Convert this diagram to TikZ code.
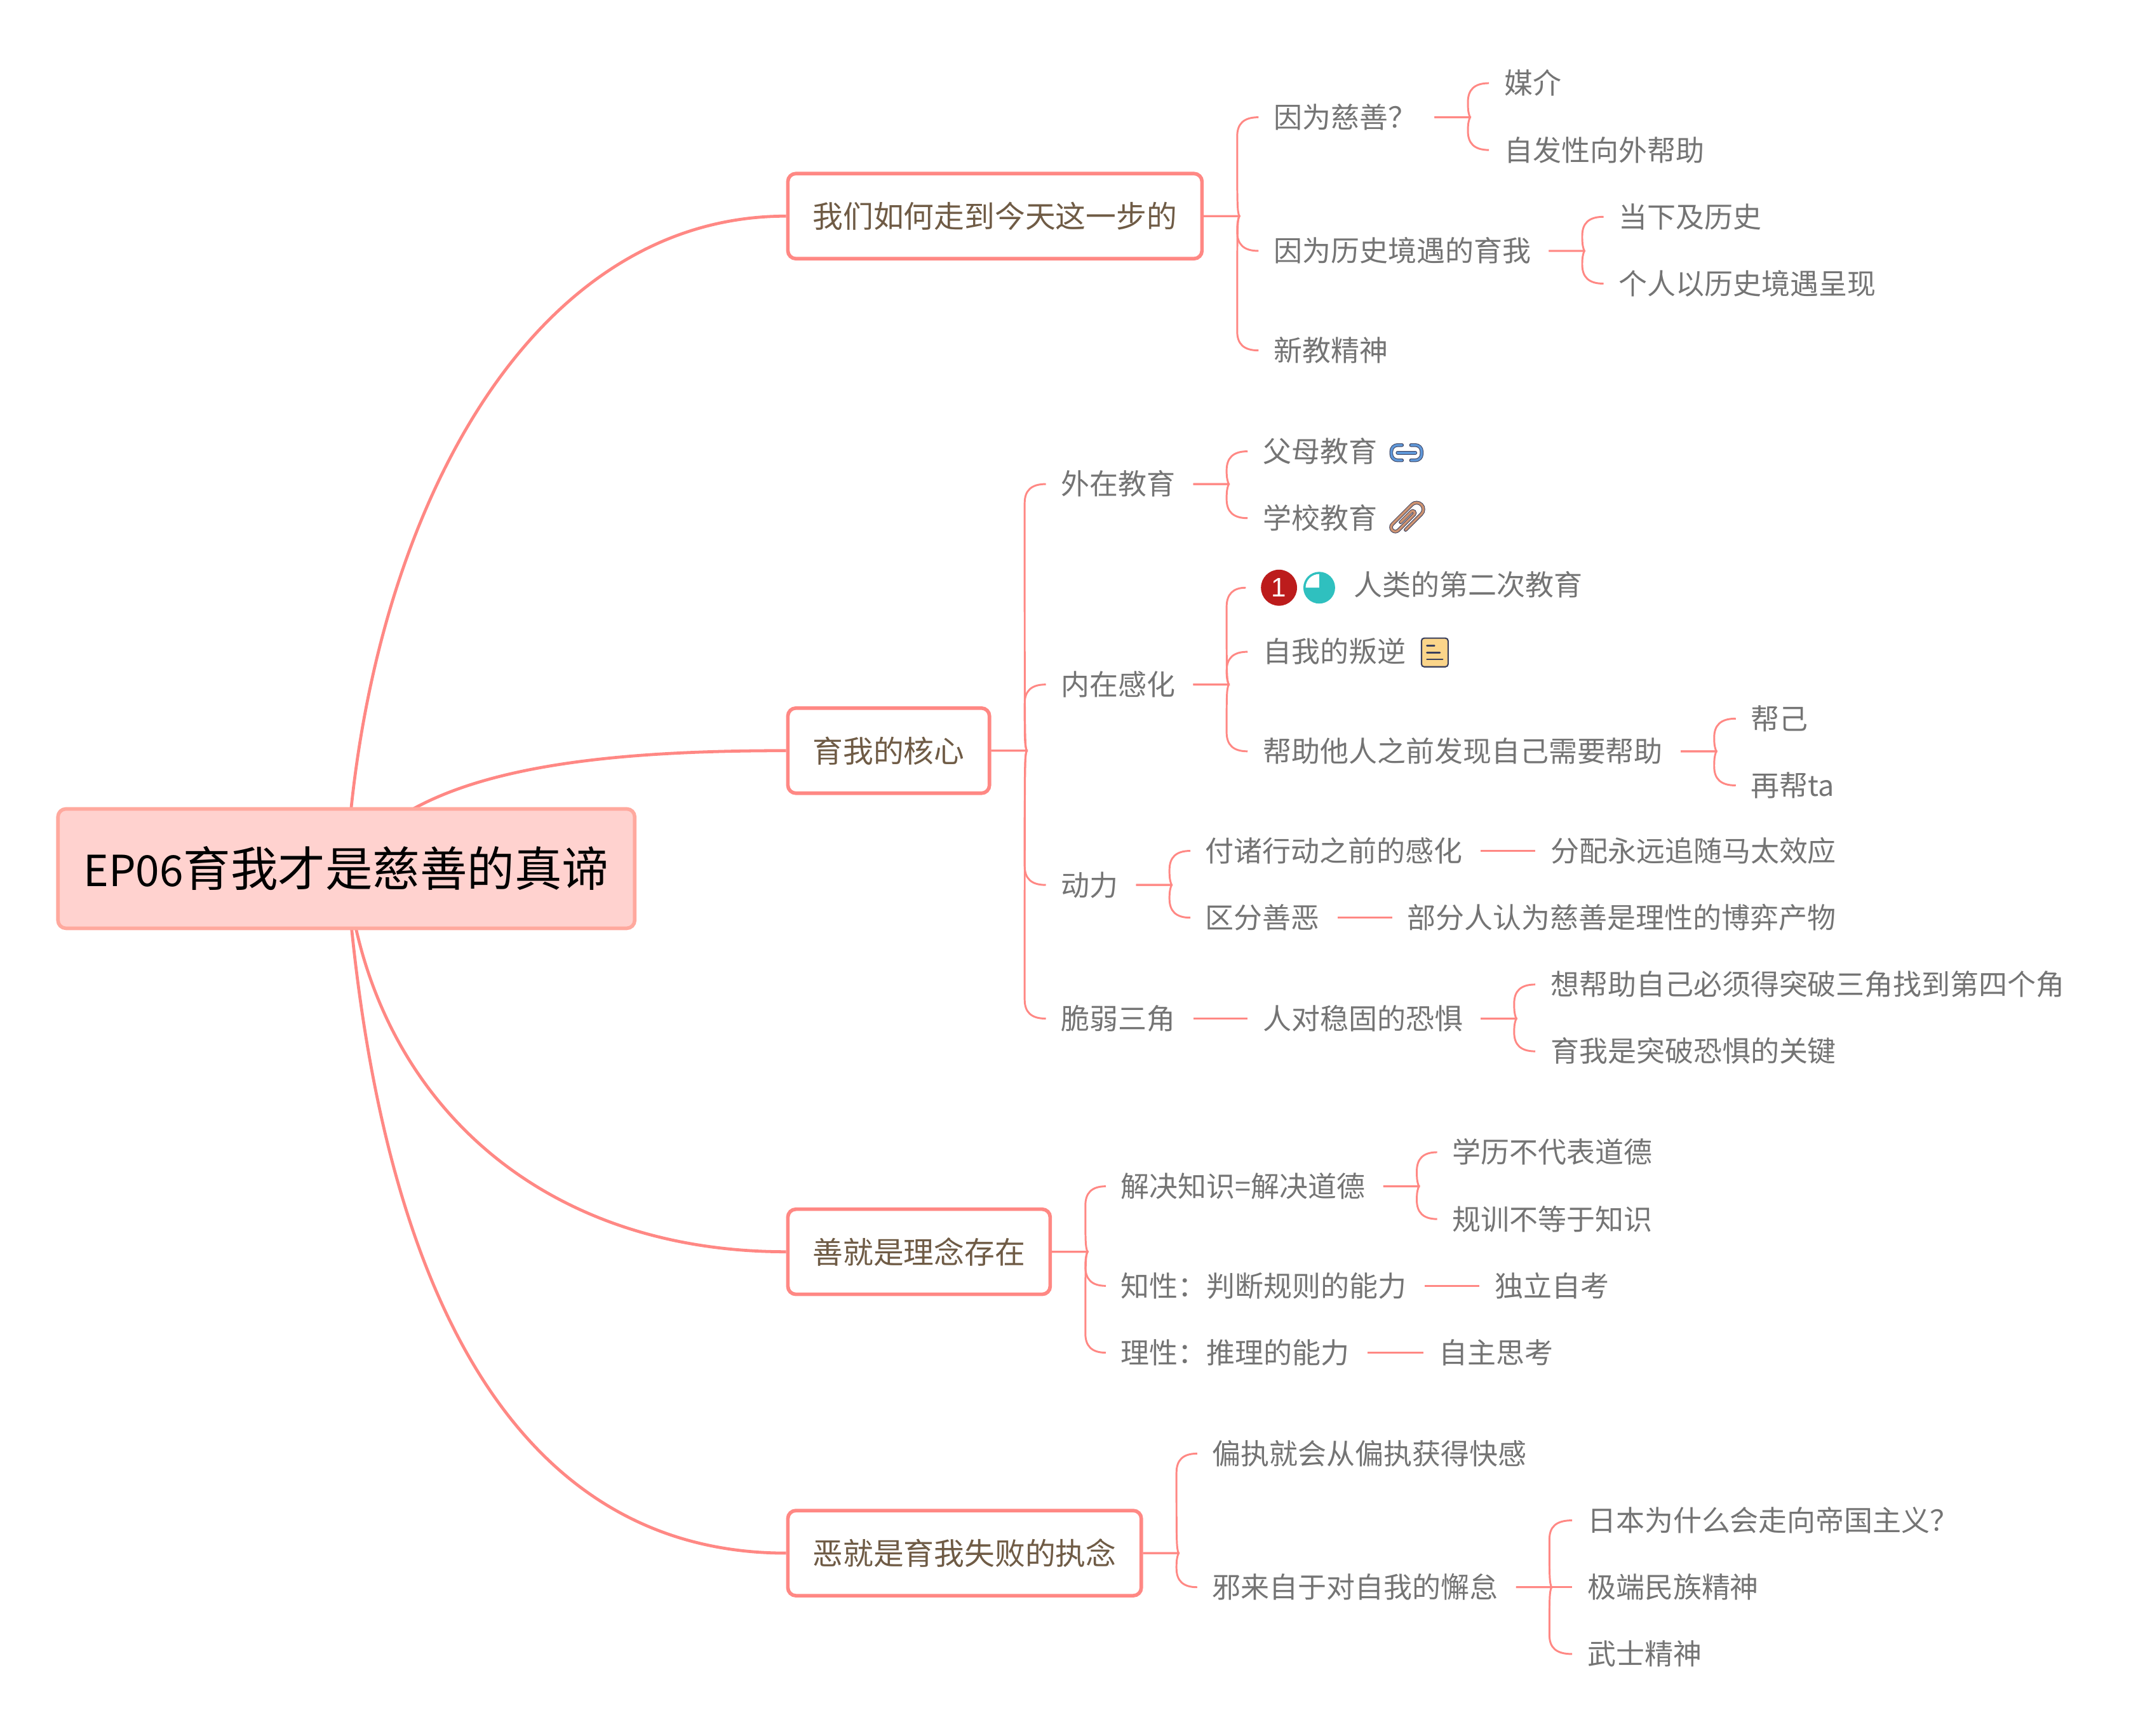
\documentclass[tikz,border=0pt]{standalone}
\usepackage{fontspec}
\setmainfont{Noto Sans CJK SC}
\newfontfamily\numfont{Liberation Sans}
\usetikzlibrary{calc,backgrounds}
\definecolor{linkc}{HTML}{FF8884}
\definecolor{rootfill}{HTML}{FFD2CF}
\definecolor{rootline}{HTML}{FFA99E}
\definecolor{leaftext}{HTML}{747474}
\definecolor{branchtext}{HTML}{6F5B45}
\definecolor{iconline}{HTML}{3A3F5C}
\definecolor{badgered}{HTML}{BC1C1C}
\definecolor{progteal}{HTML}{2FC0BF}
\definecolor{notefill}{HTML}{FBD58A}
\definecolor{linkblue}{HTML}{5F97D8}
\definecolor{clipbrown}{HTML}{CC9372}
\tikzset{
  rootbox/.style={draw=rootline,fill=rootfill,line width=4pt,rounded corners=9pt,minimum width=22.7cm,minimum height=4.7cm,inner sep=0pt,font=\fontsize{53}{60}\selectfont,text=black},
  branchbox/.style={draw=linkc,fill=white,line width=4pt,rounded corners=9pt,anchor=west,minimum height=3.35cm,inner xsep=.98cm,inner ysep=0pt,font=\fontsize{34}{40}\selectfont,text=branchtext},
  leaf/.style={anchor=west,inner sep=0pt,text height=28pt,text depth=4pt,font=\fontsize{32}{38}\selectfont,text=leaftext},
  mainlink/.style={draw=linkc,line width=3.4pt},
  sublink/.style={draw=linkc,line width=2.1pt},
  outlined/.style={line width=.7pt,draw=iconline,double=#1,double distance=2.6pt},
}
% bracket from a parent to one child, #4 is -1 for up and 1 for down
\newcommand{\brc}[4][13]{
\coordinate (s) at ($(#2.east)+(#1,0)$);
\coordinate (j) at ($(s)+(26,0)$);
\coordinate (e) at ($(#3.west)+(-11,0)$);
\coordinate (t) at (j |- e);
\draw[sublink] (s)--(j) .. controls ($(j)+(-1.5,#4*4)$) and ($(j)+(-1.5,#4*7)$) .. ($(t)+(-1.5,-14*#4)$) .. controls ($(t)+(-1.5,-5*#4)$) and ($(t)+(3,0)$) .. (e);
}
% straight line between two nodes in a row
\newcommand{\stl}[2]{\draw[sublink] ($(#1.east)+(13,0)$)--($(#2.west)+(-11,0)$);}
\begin{document}
\begin{tikzpicture}[x=.05367cm,y=-.05367cm]
\useasboundingbox (0,0) rectangle (1568,1273);
\node[rootbox] (root) at (254,637) {{\fontsize{48}{60}\selectfont EP06}育我才是慈善的真谛};
\node[branchbox] (wm) at (576.5,158.5) {我们如何走到今天这一步的};
\node[branchbox] (hx) at (576.5,550.5) {育我的核心};
\node[branchbox] (sj) at (576.5,918) {善就是理念存在};
\node[branchbox] (ej) at (576.5,1139) {恶就是育我失败的执念};
% first branch
\node[leaf] (cs) at (934,86) {因为慈善\char"FF1F};
\node[leaf] (mj) at (1103,61) {媒介};
\node[leaf] (zf) at (1103,110) {自发性向外帮助};
\node[leaf] (ls) at (934,184) {因为历史境遇的育我};
\node[leaf] (dx) at (1187,159) {当下及历史};
\node[leaf] (gr) at (1187,208) {个人以历史境遇呈现};
\node[leaf] (xj) at (934,257) {新教精神};
% second branch
\node[leaf] (wz) at (778,355) {外在教育};
\node[leaf] (fm) at (926,331) {父母教育};
\node[leaf] (xx) at (926,380) {学校教育};
\node[leaf] (nz) at (778,502) {内在感化};
\node[circle,fill=badgered,text=white,minimum size=1.42cm,inner sep=0pt,font=\numfont\fontsize{30}{32}\selectfont] (bd) at (938,431) {1};
\node[circle,fill=progteal,minimum size=1.25cm,inner sep=0pt] (pg) at (967.5,431) {};
\node[leaf] (rl) at (993,429) {人类的第二次教育};
\node[leaf] (pn) at (926,478) {自我的叛逆};
\node[leaf] (bz) at (926,551) {帮助他人之前发现自己需要帮助};
\node[leaf] (bj) at (1284,527) {帮己};
\node[leaf] (zb) at (1284,576) {再帮ta};
\node[leaf] (dl) at (778,649) {动力};
\node[leaf] (fz) at (884,624) {付诸行动之前的感化};
\node[leaf] (fp) at (1137,624) {分配永远追随马太效应};
\node[leaf] (qf) at (884,673) {区分善恶};
\node[leaf] (bf) at (1032,673) {部分人认为慈善是理性的博弈产物};
\node[leaf] (cr) at (778,747) {脆弱三角};
\node[leaf] (kj) at (926,747) {人对稳固的恐惧};
\node[leaf] (xb) at (1137,722) {想帮助自己必须得突破三角找到第四个角};
\node[leaf] (tp) at (1137,771) {育我是突破恐惧的关键};
% third branch
\node[leaf] (jj) at (822,870) {解决知识=解决道德};
\node[leaf] (xl) at (1065,845) {学历不代表道德};
\node[leaf] (gx) at (1065,894) {规训不等于知识};
\node[leaf] (zx) at (822,943) {知性\char"FF1A 判断规则的能力};
\node[leaf] (dz) at (1096,943) {独立自考};
\node[leaf] (lx) at (822,992) {理性\char"FF1A 推理的能力};
\node[leaf] (zz) at (1055,992) {自主思考};
% fourth branch
\node[leaf] (pz) at (889,1066) {偏执就会从偏执获得快感};
\node[leaf] (xl2) at (889,1164) {邪来自于对自我的懈怠};
\node[leaf] (rb) at (1164,1115) {日本为什么会走向帝国主义\char"FF1F};
\node[leaf] (jd) at (1164,1164) {极端民族精神};
\node[leaf] (ws) at (1164,1213) {武士精神};
% icons
\fill[white] (pg.center)--++(0,-10) arc[start angle=90,end angle=180,radius=.535cm]--cycle;
\filldraw[rounded corners=3pt,fill=notefill,draw=iconline,line width=1.5pt] (1042.5,468) rectangle (1062,489);
\foreach \yy/\xx in {473.5/1052,478.5/1056,483.5/1058} \draw[iconline,line width=1.9pt,line cap=round] (1046.5,\yy)--(\xx,\yy);
\begin{scope}[shift={(1031.5,332)},x=1pt,y=1pt]
\draw[outlined=linkblue,line cap=round] (-10,0)--(10,0);
\draw[outlined=linkblue,line cap=round,rounded corners=7pt] (-5,8.5)--(-17,8.5)--(-17,-8.5)--(-5,-8.5);
\draw[outlined=linkblue,line cap=round,rounded corners=7pt] (5,8.5)--(17,8.5)--(17,-8.5)--(5,-8.5);
\end{scope}
\begin{scope}[shift={(1032,380.5)},rotate=-45,x=1pt,y=1pt]
\draw[outlined=clipbrown,line cap=round] (7.5,-10)--(7.5,15) arc[start angle=0,end angle=180,radius=7.5]--(-7.5,-16) arc[start angle=180,end angle=360,radius=4.8]--(2.1,9) arc[start angle=0,end angle=180,radius=2.3]--(-2.5,-8);
\end{scope}
\begin{scope}[on background layer]
\draw[mainlink] (root.center) .. controls (268,385) and (385,158.5) .. (wm.west);
\draw[mainlink] (root.center) .. controls (300,565) and (430,550.5) .. (hx.west);
\draw[mainlink] (root.center) .. controls (270,800) and (390,918) .. (sj.west);
\draw[mainlink] (root.center) .. controls (278,960) and (385,1139) .. (ej.west);
\end{scope}
% connectors
\brc[0]{wm}{cs}{-1} \brc[0]{wm}{ls}{1} \brc[0]{wm}{xj}{1}
\brc{cs}{mj}{-1} \brc{cs}{zf}{1}
\brc{ls}{dx}{-1} \brc{ls}{gr}{1}
\brc[0]{hx}{wz}{-1} \brc[0]{hx}{nz}{-1} \brc[0]{hx}{dl}{1} \brc[0]{hx}{cr}{1}
\brc{wz}{fm}{-1} \brc{wz}{xx}{1}
\brc{nz}{bd}{-1} \brc{nz}{pn}{-1} \brc{nz}{bz}{1}
\brc{bz}{bj}{-1} \brc{bz}{zb}{1}
\brc{dl}{fz}{-1} \brc{dl}{qf}{1}
\stl{fz}{fp} \stl{qf}{bf} \stl{cr}{kj}
\brc{kj}{xb}{-1} \brc{kj}{tp}{1}
\brc[0]{sj}{jj}{-1} \brc[0]{sj}{zx}{1} \brc[0]{sj}{lx}{1}
\brc{jj}{xl}{-1} \brc{jj}{gx}{1}
\stl{zx}{dz} \stl{lx}{zz}
\brc[0]{ej}{pz}{-1} \brc[0]{ej}{xl2}{1}
\brc{xl2}{rb}{-1} \stl{xl2}{jd} \brc{xl2}{ws}{1}
\end{tikzpicture}
\end{document}
